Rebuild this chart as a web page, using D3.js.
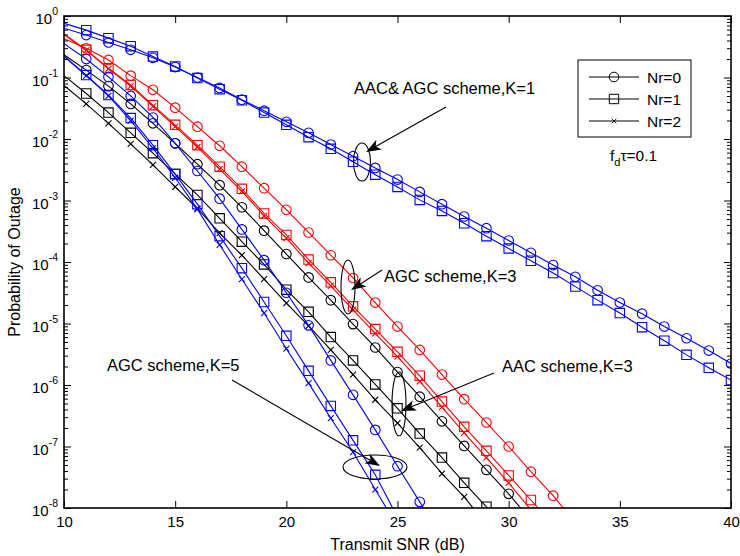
<!DOCTYPE html>
<meta charset="utf-8">
<script src="https://d3js.org/d3.v7.min.js"></script>
<style>
  body { margin: 0; background: #fff; }
  text { font-family: "Liberation Sans", Arial, sans-serif; fill: #000; }
</style>
<div id="chart"></div>
<script>
// Transmit SNR grid (dB). The 10 dB point only starts each line, markers begin at 11 dB.
var snr = [10, 11, 12, 13, 14, 15, 16, 17, 18, 19, 20, 21, 22, 23, 24, 25, 26, 27, 28, 29, 30,
           31, 32, 33, 34, 35, 36, 37, 38, 39, 40];

// log10(probability of outage), one value per SNR step
var aagcK1Nr0 = [-0.20, -0.31, -0.43, -0.55, -0.68, -0.83, -1.00, -1.17, -1.36, -1.54, -1.72, -1.90, -2.09,
                 -2.28, -2.47, -2.66, -2.86, -3.06, -3.26, -3.45, -3.65, -3.85, -4.05, -4.24, -4.46, -4.66,
                 -4.84, -5.05, -5.24, -5.44, -5.65];
var aagcK1Nr1 = [-0.12, -0.23, -0.36, -0.49, -0.66, -0.82, -1.01, -1.19, -1.37, -1.57, -1.77, -1.97, -2.16,
                 -2.37, -2.58, -2.78, -2.99, -3.17, -3.37, -3.58, -3.78, -3.98, -4.18, -4.40, -4.62, -4.83,
                 -5.06, -5.28, -5.51, -5.72, -5.92];

var agcK3Nr0 = [-0.37, -0.525, -0.715, -0.97, -1.20, -1.49, -1.80, -2.11, -2.45, -2.80, -3.15, -3.52, -3.89,
                -4.26, -4.66, -5.05, -5.43, -5.83, -6.23, -6.61, -7.00, -7.41, -7.80, -8.24];
var agcK3Nr1 = [-0.29, -0.55, -0.85, -1.12, -1.45, -1.77, -2.10, -2.45, -2.81, -3.21, -3.56, -3.96, -4.33,
                -4.72, -5.09, -5.46, -5.85, -6.27, -6.68, -7.07, -7.47, -7.87, -8.27];
var agcK3Nr2 = [-0.30, -0.56, -0.86, -1.14, -1.47, -1.80, -2.13, -2.49, -2.85, -3.25, -3.61, -4.02, -4.39,
                -4.78, -5.16, -5.54, -5.94, -6.36, -6.78, -7.18, -7.59, -8.03, -8.43];

var aacK3Nr0 = [-0.63, -0.88, -1.14, -1.43, -1.745, -2.07, -2.41, -2.75, -3.11, -3.49, -3.87, -4.25, -4.62,
                -5.01, -5.39, -5.79, -6.19, -6.59, -6.99, -7.38, -7.77, -8.20];
var aacK3Nr1 = [-0.97, -1.26, -1.57, -1.90, -2.23, -2.57, -2.91, -3.29, -3.67, -4.04, -4.45, -4.81, -5.22,
                -5.60, -5.99, -6.38, -6.79, -7.18, -7.59, -7.98, -8.38];
var aacK3Nr2 = [-1.13, -1.43, -1.745, -2.08, -2.42, -2.78, -3.13, -3.53, -3.89, -4.28, -4.67, -5.04, -5.43,
                -5.83, -6.24, -6.62, -7.02, -7.44, -7.82, -8.27];

var agcK5Nr0 = [-0.45, -0.70, -0.99, -1.30, -1.65, -2.07, -2.52, -2.97, -3.47, -3.97, -4.50, -5.03, -5.60,
                -6.16, -6.73, -7.32, -7.90, -8.48];
var agcK5Nr1 = [-0.65, -0.96, -1.285, -1.66, -2.10, -2.57, -3.06, -3.58, -4.10, -4.65, -5.20, -5.77, -6.34,
                -6.90, -7.46, -8.15];
var agcK5Nr2 = [-0.66, -0.97, -1.30, -1.70, -2.15, -2.63, -3.14, -3.72, -4.28, -4.83, -5.41, -5.97, -6.54,
                -7.09, -7.70, -8.30];

var xTicks = [10, 15, 20, 25, 30, 35, 40];
var yDecades = [-8, -7, -6, -5, -4, -3, -2, -1, 0];
var legendLabels = ["Nr=0", "Nr=1", "Nr=2"];

// series list (colour and marker per curve)
var series = [
  { v: aagcK1Nr0, c: "#0000ff", m: "circle" },
  { v: aagcK1Nr1, c: "#0000ff", m: "square" },
  { v: agcK3Nr0, c: "#ff0000", m: "circle" },
  { v: agcK3Nr1, c: "#ff0000", m: "square" },
  { v: agcK3Nr2, c: "#ff0000", m: "cross" },
  { v: aacK3Nr0, c: "#000000", m: "circle" },
  { v: aacK3Nr1, c: "#000000", m: "square" },
  { v: aacK3Nr2, c: "#000000", m: "cross" },
  { v: agcK5Nr0, c: "#0000ff", m: "circle" },
  { v: agcK5Nr1, c: "#0000ff", m: "square" },
  { v: agcK5Nr2, c: "#0000ff", m: "cross" }
];

var W = 740, H = 556;
var pl = 64, pr = 731, pt = 16, pb = 508;   // plot box edges

var svg = d3.select("#chart").append("svg")
    .attr("width", W).attr("height", H);

var x = d3.scaleLinear().domain([10, 40]).range([pl, pr]);
var y = d3.scaleLog().domain([1e-8, 1]).range([pb, pt]);

svg.append("clipPath").attr("id", "plotclip")
  .append("rect").attr("x", pl).attr("y", pt)
  .attr("width", pr - pl).attr("height", pb - pt);

var plot = svg.append("g").attr("clip-path", "url(#plotclip)");

var line = d3.line().x(d => x(d.s)).y(d => y(d.p));

function markerPath(type) {
  if (type === "circle") return d3.symbol(d3.symbolCircle, Math.PI * 4.8 * 4.8)();
  if (type === "square") return "M-4.7,-4.7H4.7V4.7H-4.7Z";
  return "M-3,-3L3,3M-3,3L3,-3";
}

series.forEach(function (sr) {
  var pts = sr.v.map((e, i) => ({ s: snr[i], p: Math.pow(10, e) }));
  plot.append("path").datum(pts)
    .attr("d", line)
    .attr("fill", "none")
    .attr("stroke", sr.c)
    .attr("stroke-width", 1.1);
  plot.selectAll(null)
    .data(pts.filter(d => d.s > 10))
    .enter().append("path")
    .attr("d", markerPath(sr.m))
    .attr("transform", d => "translate(" + x(d.s) + "," + y(d.p) + ")")
    .attr("fill", "none")
    .attr("stroke", sr.c)
    .attr("stroke-width", 1.1);
});

// axes: ticks inward on all four sides
var minor = [];
yDecades.slice(0, -1).forEach(function (d) {
  for (var k = 2; k <= 9; k++) minor.push(k * Math.pow(10, d));
});
var major = yDecades.map(d => Math.pow(10, d));

function styleAxis(g) {
  g.select(".domain").remove();
  g.selectAll(".tick line").attr("stroke", "#000").attr("stroke-width", 1);
}

svg.append("g").attr("transform", "translate(0," + pb + ")")
  .call(d3.axisBottom(x).tickValues(xTicks).tickSize(-7).tickSizeOuter(0).tickPadding(8))
  .call(styleAxis)
  .call(g => g.selectAll("text").attr("font-size", 15).attr("font-family", "Liberation Sans, Arial, sans-serif"));

svg.append("g").attr("transform", "translate(0," + pt + ")")
  .call(d3.axisTop(x).tickValues(xTicks).tickSize(-7).tickSizeOuter(0).tickFormat(""))
  .call(styleAxis);

[[pl, d3.axisLeft], [pr, d3.axisRight]].forEach(function (a) {
  svg.append("g").attr("transform", "translate(" + a[0] + ",0)")
    .call(a[1](y).tickValues(major).tickSize(-7).tickSizeOuter(0).tickFormat(""))
    .call(styleAxis);
  svg.append("g").attr("transform", "translate(" + a[0] + ",0)")
    .call(a[1](y).tickValues(minor).tickSize(-4).tickSizeOuter(0).tickFormat(""))
    .call(styleAxis);
});

// y tick labels 10^n
svg.append("g").selectAll("text")
  .data(yDecades).enter().append("text")
  .attr("x", pl - 6)
  .attr("y", d => y(Math.pow(10, d)) + 8)
  .attr("text-anchor", "end")
  .attr("font-size", 15)
  .each(function (d) {
    var t = d3.select(this);
    t.append("tspan").text("10");
    t.append("tspan").attr("dy", -9).attr("font-size", 10.5).text(d === 0 ? "0" : String(d));
  });

svg.append("rect")
  .attr("x", pl).attr("y", pt)
  .attr("width", pr - pl).attr("height", pb - pt)
  .attr("fill", "none").attr("stroke", "#000").attr("stroke-width", 1.6);

// axis titles
svg.append("text")
  .attr("x", (pl + pr) / 2).attr("y", 550)
  .attr("text-anchor", "middle").attr("font-size", 16)
  .text("Transmit SNR (dB)");

svg.append("text")
  .attr("transform", "translate(20," + ((pt + pb) / 2) + ") rotate(-90)")
  .attr("text-anchor", "middle").attr("font-size", 16)
  .text("Probability of Outage");

// legend
var lg = svg.append("g");
lg.append("rect").attr("x", 578).attr("y", 60).attr("width", 113).attr("height", 77)
  .attr("fill", "#fff").attr("stroke", "#000").attr("stroke-width", 1);
["circle", "square", "cross"].forEach(function (m, i) {
  var ly = 77 + i * 22;
  lg.append("line").attr("x1", 589).attr("x2", 639).attr("y1", ly).attr("y2", ly)
    .attr("stroke", "#000").attr("stroke-width", 1);
  lg.append("path").attr("d", markerPath(m))
    .attr("transform", "translate(614," + ly + ")" + (m === "cross" ? " scale(0.8)" : ""))
    .attr("fill", "none").attr("stroke", "#000").attr("stroke-width", 1);
  lg.append("text").attr("x", 647).attr("y", ly + 5.5).attr("font-size", 15.5).text(legendLabels[i]);
});

// f_d tau label
var ft = svg.append("text").attr("x", 610).attr("y", 161).attr("font-size", 15.5);
ft.append("tspan").text("f");
ft.append("tspan").attr("dy", 5).attr("font-size", 11).text("d");
ft.append("tspan").attr("dy", -5).text("\u03c4=0.1");

// annotations: text, arrow, ellipse
var notes = [
  { t: "AAC& AGC scheme,K=1", tx: 354, ty: 94, from: [446, 107], to: [366, 152], e: [362, 162, 8.5, 19] },
  { t: "AGC scheme,K=3", tx: 384, ty: 282, from: [382, 270], to: [351, 290], e: [348, 287, 7, 27] },
  { t: "AAC scheme,K=3", tx: 502, ty: 372, from: [494, 373], to: [401, 411], e: [399, 404, 7, 32] },
  { t: "AGC scheme,K=5", tx: 107, ty: 371, from: [232, 380], to: [380, 466], e: [375, 467, 32, 12] }
];

notes.forEach(function (n) {
  svg.append("text").attr("x", n.tx).attr("y", n.ty).attr("font-size", 16.5).text(n.t);
  svg.append("ellipse").attr("cx", n.e[0]).attr("cy", n.e[1]).attr("rx", n.e[2]).attr("ry", n.e[3])
    .attr("fill", "none").attr("stroke", "#000").attr("stroke-width", 1.1);
  var dx = n.to[0] - n.from[0], dy = n.to[1] - n.from[1];
  var ang = Math.atan2(dy, dx) * 180 / Math.PI;
  var len = Math.sqrt(dx * dx + dy * dy);
  svg.append("line").attr("x1", n.from[0]).attr("y1", n.from[1])
    .attr("x2", n.to[0] - dx / len * 8).attr("y2", n.to[1] - dy / len * 8)
    .attr("stroke", "#000").attr("stroke-width", 1.1);
  svg.append("path").attr("d", "M0,0L-15,-5.5L-11,0L-15,5.5Z")
    .attr("transform", "translate(" + n.to[0] + "," + n.to[1] + ") rotate(" + ang + ")")
    .attr("fill", "#000");
});
</script>
